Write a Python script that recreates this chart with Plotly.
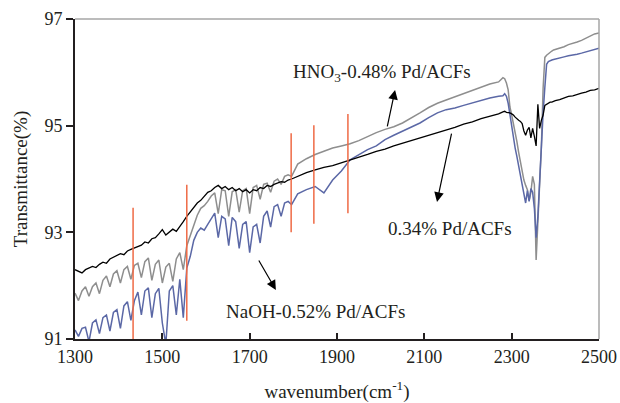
import plotly.graph_objects as go

# ---------------- data ----------------
wavenumber = (
    list(range(1300, 1797, 8))
    + list(range(1810, 2271, 20))
    + list(range(2280, 2401, 4))
    + list(range(2410, 2501, 10))
)

t_034 = [
    92.30, 92.27, 92.24, 92.30, 92.33, 92.36, 92.34, 92.40, 92.44, 92.42,
    92.50, 92.53, 92.56, 92.60, 92.58, 92.65, 92.68, 92.71, 92.74, 92.76,
    92.82, 92.80, 92.88, 92.90, 92.97, 93.05, 92.95, 93.00, 93.06, 93.02,
    93.10, 93.20, 93.30, 93.38, 93.48, 93.55, 93.60, 93.68, 93.75, 93.78,
    93.84, 93.88, 93.82, 93.86, 93.80, 93.84, 93.78, 93.82, 93.76, 93.80,
    93.74, 93.80, 93.78, 93.84, 93.82, 93.88, 93.86, 93.90, 93.92, 93.95,
    93.94, 93.98, 94.00,
    94.05, 94.12, 94.17, 94.22, 94.25, 94.30, 94.36, 94.40, 94.46, 94.52,
    94.56, 94.62, 94.67, 94.72, 94.76, 94.82, 94.86, 94.92, 94.97, 95.03,
    95.07, 95.13, 95.18, 95.22,
    95.26, 95.27, 95.25, 95.25, 95.24, 95.22, 95.20, 95.16, 95.12, 95.10,
    95.08, 95.04, 94.90, 94.82, 94.92, 94.97, 94.77, 94.95, 94.80, 94.62,
    95.40, 94.95, 95.10, 95.20, 95.38, 95.40, 95.42, 95.44, 95.44, 95.46,
    95.47,
    95.49, 95.52, 95.55, 95.56, 95.59, 95.61, 95.63, 95.66, 95.67, 95.70,
]

t_hno3 = [
    91.86, 91.72, 91.90, 91.98, 91.80, 91.98, 92.05, 91.85, 92.10, 92.18,
    91.98, 92.22, 92.28, 92.05, 92.30, 92.36, 92.12, 92.38, 92.42, 92.15,
    92.45, 92.52, 92.10, 92.40, 92.48, 92.05, 92.35, 92.42, 92.08, 92.50,
    92.62, 92.30, 92.75, 92.95, 93.15, 93.32, 93.45, 93.50, 93.58, 93.68,
    93.74, 93.35, 93.80, 93.78, 93.30, 93.76, 93.80, 93.38, 93.78, 93.82,
    93.35, 93.84, 93.88, 93.62, 93.90, 93.92, 93.75, 93.96, 94.00, 93.90,
    94.05, 94.08, 94.05,
    94.28, 94.38, 94.46, 94.52, 94.58, 94.62, 94.66, 94.72, 94.80, 94.87,
    94.93, 94.98, 95.05, 95.14, 95.24, 95.34, 95.42, 95.48, 95.54, 95.60,
    95.66, 95.72, 95.78, 95.82,
    95.90, 95.88, 95.80, 95.67, 95.35, 95.20, 95.05, 94.90, 94.70, 94.50,
    94.32, 94.15, 93.98, 93.88, 93.80, 93.60, 93.75, 94.05, 93.90, 92.48,
    93.10, 93.80, 94.60, 95.70, 96.28, 96.32, 96.35, 96.38, 96.40, 96.42,
    96.43,
    96.45, 96.48, 96.52, 96.54, 96.57, 96.60, 96.64, 96.68, 96.72, 96.74,
]

t_naoh = [
    91.17, 91.05, 91.20, 91.22, 90.95, 91.30, 91.36, 91.10, 91.40, 91.45,
    91.15, 91.50, 91.55, 91.20, 91.62, 91.70, 91.35, 91.72, 91.88, 91.45,
    91.90, 91.96, 91.40, 91.85, 91.95, 91.30, 90.90, 91.90, 92.00, 91.45,
    92.12, 91.40, 92.33, 92.55, 92.85, 93.00, 93.08, 93.04, 93.15, 93.25,
    93.36, 92.90, 93.30, 93.25, 92.75, 93.28, 93.20, 92.70, 93.15, 93.20,
    92.62, 93.10, 93.15, 92.80, 93.30, 93.40, 93.10, 93.48, 93.52, 93.30,
    93.55, 93.58, 93.52,
    93.72, 93.80, 93.86, 93.74, 93.98, 94.15, 94.36, 94.46, 94.55, 94.62,
    94.74, 94.82, 94.90, 94.98, 95.05, 95.15, 95.24, 95.30, 95.33, 95.38,
    95.43, 95.48, 95.52, 95.55,
    95.56, 95.60, 95.55, 95.42, 95.20, 94.98, 94.78, 94.58, 94.42, 94.25,
    94.08, 93.90, 93.74, 93.55, 93.78, 93.58, 93.82, 93.75, 93.45, 92.90,
    93.30, 94.00, 94.65, 95.24, 95.72, 96.15, 96.20, 96.22, 96.23, 96.24,
    96.25,
    96.27, 96.29, 96.31, 96.32, 96.34, 96.36, 96.38, 96.41, 96.43, 96.45,
]

marker_x = [1433, 1556, 1795, 1847, 1925]
marker_low = [90.94, 91.34, 93.00, 93.16, 93.36]
marker_high = [93.46, 93.89, 94.86, 95.01, 95.22]

x_ticks = [1300, 1500, 1700, 1900, 2100, 2300, 2500]
y_ticks = [91, 93, 95, 97]

FONT = "Liberation Serif, Times New Roman, serif"

fig = go.Figure()
fig.add_trace(go.Scatter(x=wavenumber, y=t_hno3, mode="lines",
                         line=dict(color="#8e8e8e", width=1.5), name="HNO3-0.48% Pd/ACFs"))
fig.add_trace(go.Scatter(x=wavenumber, y=t_naoh, mode="lines",
                         line=dict(color="#5b68a6", width=1.5), name="NaOH-0.52% Pd/ACFs"))
fig.add_trace(go.Scatter(x=wavenumber, y=t_034, mode="lines",
                         line=dict(color="#000000", width=1.3), name="0.34% Pd/ACFs"))

rx, ry = [], []
for xv, lo, hi in zip(marker_x, marker_low, marker_high):
    rx += [xv, xv, None]
    ry += [lo, hi, None]
fig.add_trace(go.Scatter(x=rx, y=ry, mode="lines",
                         line=dict(color="#ef6a45", width=1.5), hoverinfo="skip"))

annots = [
    dict(text="HNO<sub>3</sub>-0.48% Pd/ACFs", x=2004, y=95.99),
    dict(text="0.34% Pd/ACFs", x=2159, y=93.08),
    dict(text="NaOH-0.52% Pd/ACFs", x=1850, y=91.51),
]
for a in annots:
    fig.add_annotation(x=a["x"], y=a["y"], text=a["text"], showarrow=False,
                       font=dict(family=FONT, size=19, color="#231f20"))

arrows = [
    ((2014.5, 94.96), (2033, 95.67)),
    ((2163, 94.88), (2129, 93.57)),
    ((1719, 92.50), (1760, 91.92)),
]
for (tx, ty), (hx, hy) in arrows:
    fig.add_annotation(x=hx, y=hy, ax=tx, ay=ty, axref="x", ayref="y",
                       xref="x", yref="y", text="", showarrow=True,
                       arrowhead=2, arrowsize=1.6, arrowwidth=1.2, arrowcolor="#000000")

# gray top/right frame
fig.add_shape(type="line", xref="paper", yref="paper", x0=0, x1=1, y0=1, y1=1,
              line=dict(color="#a6a6a6", width=1.5))
fig.add_shape(type="line", xref="paper", yref="paper", x0=1, x1=1, y0=0, y1=1,
              line=dict(color="#a6a6a6", width=1.5))

fig.update_layout(
    width=620, height=403, autosize=False,
    margin=dict(l=75, r=21, t=19, b=64, autoexpand=False),
    paper_bgcolor="white", plot_bgcolor="white",
    showlegend=False,
    font=dict(family=FONT, size=18, color="#231f20"),
)
fig.update_xaxes(
    range=[1300, 2500], tickvals=x_ticks, ticktext=[str(v) for v in x_ticks],
    ticks="inside", ticklen=6, tickwidth=1.5, tickcolor="#231f20",
    showline=True, linecolor="#231f20", linewidth=2, showgrid=False, zeroline=False,
    automargin=False,
    tickfont=dict(family=FONT, size=18),
    title=dict(text="wavenumber(cm<sup>-1</sup>)", font=dict(family=FONT, size=19), standoff=20),
)
fig.update_yaxes(
    range=[91, 97], tickvals=y_ticks, ticktext=[str(v) for v in y_ticks],
    ticks="outside", ticklen=7, tickwidth=1.5, tickcolor="#231f20",
    showline=True, linecolor="#231f20", linewidth=2, showgrid=False, zeroline=False,
    automargin=False,
    tickfont=dict(family=FONT, size=18),
    title=dict(text="Transmittance(%)", font=dict(family=FONT, size=19), standoff=12),
)

fig.write_html("out.html")
